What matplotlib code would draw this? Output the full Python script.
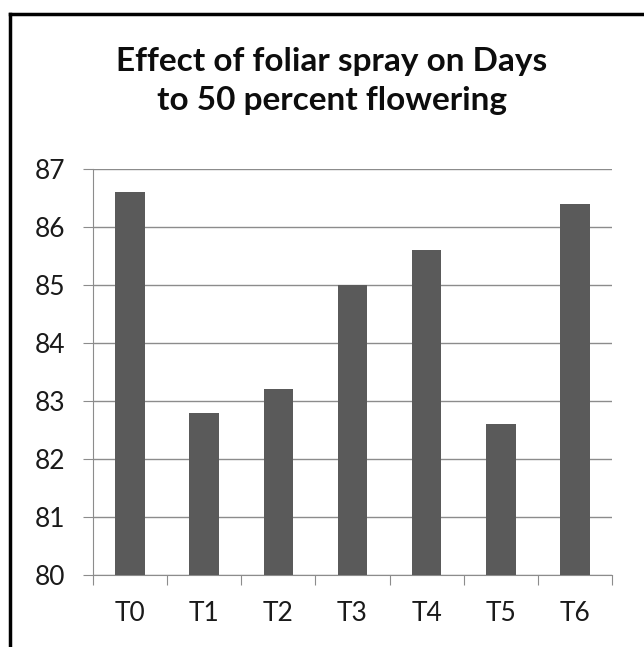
import numpy as np
import matplotlib
matplotlib.use("Agg")
import matplotlib.pyplot as plt
from matplotlib.lines import Line2D

# data
treatments = ["T0", "T1", "T2", "T3", "T4", "T5", "T6"]
days_50_flowering = [86.6, 82.8, 83.2, 85.0, 85.6, 82.6, 86.4]
y_ticks = [80, 81, 82, 83, 84, 85, 86, 87]

plt.rcParams['font.family'] = ['Lato', 'DejaVu Sans']

W, H = 644, 647
fig = plt.figure(figsize=(W / 100, H / 100), dpi=100)

# axes in pixel positions
left, right, top, bottom = 93, 612, 169, 575
ax = fig.add_axes([left / W, 1 - bottom / H, (right - left) / W, (bottom - top) / H])

x = np.arange(len(treatments))
ax.bar(x, [v - 80 for v in days_50_flowering], bottom=80, width=0.4, color='#5a5a5a', zorder=3)

ax.set_xlim(-0.5, len(treatments) - 0.5)
ax.set_ylim(80, 87)
ax.set_yticks(y_ticks)
ax.set_yticklabels([str(v) for v in y_ticks], fontsize=19)
ax.grid(True, axis='y', color='#8c8c8c', linewidth=1.0)
ax.set_axisbelow(True)

for s in ['top', 'right']:
    ax.spines[s].set_visible(False)
ax.spines['left'].set_color('#8c8c8c')
ax.spines['bottom'].set_color('#8c8c8c')
ax.tick_params(axis='y', length=7, color='#8c8c8c', pad=13, labelcolor='#1a1a1a')

# category ticks sit between the bars, labels under the bars
ax.set_xticks(np.arange(len(treatments) + 1) - 0.5)
ax.set_xticklabels([])
ax.tick_params(axis='x', length=7, color='#8c8c8c')
ax.set_xticks(x, minor=True)
ax.set_xticklabels(treatments, minor=True, fontsize=19, color='#1a1a1a')
ax.tick_params(axis='x', which='minor', length=0, pad=19)

fig.text(332 / W, 1 - 81 / H,
         "Effect of foliar spray on Days\nto 50 percent flowering",
         ha='center', va='center', fontsize=24, fontweight='bold',
         linespacing=1.4, color='#0d0d0d')

# outer frame (left and top edges visible)
fig.add_artist(Line2D([10 / W, 10 / W], [0, 1 - 14 / H], transform=fig.transFigure,
                      color='black', linewidth=2.5))
fig.add_artist(Line2D([10 / W, 1], [1 - 14 / H, 1 - 14 / H], transform=fig.transFigure,
                      color='black', linewidth=2.5))

fig.savefig("out.png", dpi=100)
